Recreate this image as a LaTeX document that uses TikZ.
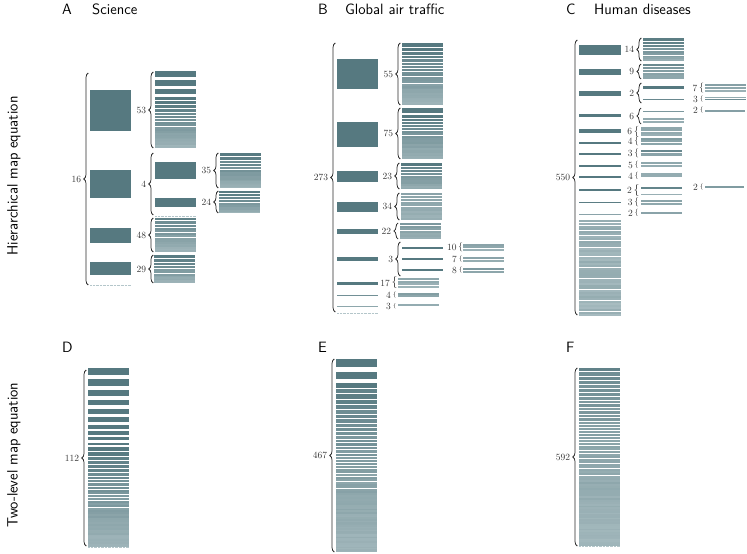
\documentclass[tikz,border=0pt]{standalone}
\usetikzlibrary{decorations.pathreplacing}
\definecolor{dk}{RGB}{86,121,128}
\definecolor{lt}{RGB}{180,198,202}
\definecolor{brcol}{RGB}{40,40,40}
\tikzset{
  bar/.style={fill=dk},
  brc/.style={draw=brcol, line width=0.75pt, decorate},
  numlab/.style={font=\fontsize{9.5}{11}\selectfont, text=black!80, inner sep=0pt, anchor=east},
  smallbrace/.style={inner sep=0pt, text=brcol},
  ttl/.style={font=\sffamily\fontsize{15}{18}\selectfont, inner sep=0pt, anchor=base west},
  rowlab/.style={font=\sffamily\fontsize{15}{18}\selectfont, inner sep=0pt, rotate=90},
  dotln/.style={draw=lt, line width=0.6pt, dash pattern=on 0.7pt off 0.7pt},
}
\pgfkeys{/strp/.is family, /strp/.cd,
  n/.store in=\sN, r/.store in=\sR, f/.store in=\sF,
  pa/.store in=\sPa, pb/.store in=\sPb, g/.store in=\sGm, jit/.store in=\sJ}
% [options]{x1}{x2}{ytop}{ybot}
\newcommand\mystripes[5][]{%
  \begingroup
  \pgfkeys{/strp/.cd, n=10, r=0.9, f=0, pa=100, pb=25, g=1, jit=6, #1}%
  \pgfmathsetmacro\sH{#5-#4}%
  \pgfmathsetmacro\sTot{(1-\sR^\sN)/(1-\sR)+\sN*\sF}%
  \foreach \i in {1,...,\sN}{%
    \pgfmathsetmacro\fa{((1-\sR^(\i-1))/(1-\sR)+(\i-1)*\sF)/\sTot}%
    \pgfmathsetmacro\fb{((1-\sR^\i)/(1-\sR)+\i*\sF)/\sTot}%
    \pgfmathsetmacro\ya{round(#4+\sH*\fa)}%
    \pgfmathsetmacro\yb{round(#4+\sH*\fb)}%
    \pgfmathtruncatemacro\hz{round(\yb-\ya)}%
    \ifnum\hz>0
      \pgfmathsetmacro\gp{(\hz>2)*0.55+(\hz==2)*0.4}%
      \pgfmathtruncatemacro\pp{max(0,min(100,\sPa+(\sPb-\sPa)*(max(\fa,0.001))^\sGm+\sJ*rand))}%
      \fill[dk!\pp!lt] (#2,\ya) rectangle (#3,\yb-\gp);
    \fi
  }%
  \endgroup
}
% {name}{x of brace line}{ytop}{ybot}{label}
\newcommand\brlab[5]{%
  \pgfmathsetmacro\bmid{(#3+#4)/2}%
  \pgfmathtruncatemacro\bsm{(#4-#3)<12}%
  \ifnum\bsm=1
    \pgfmathsetmacro\bfs{1.15*(#4-#3)+0.5}%
    \node[smallbrace, font=\fontsize{\bfs}{\bfs}\selectfont] (#1br) at (#2-0.3,\bmid) {$\{$};
    \node[numlab] (#1) at (#1br.west) [xshift=-1.5pt] {#5};
  \else
    \pgfmathsetmacro\bamp{min(4.5,0.2*(#4-#3)+1.2)}%
    \draw[brc, decoration={brace, amplitude=\bamp pt}] (#2+\bamp/2,#4) -- (#2+\bamp/2,#3);
    \node[numlab] (#1) at (#2-\bamp/2-2.5,\bmid) {#5};
  \fi
}
\begin{document}
\begin{tikzpicture}[x={(1bp,0)}, y={(0,-1bp)}]
\pgfmathsetseed{7}
\useasboundingbox (0,0) rectangle (747,554);

% titles
\node[ttl] (tA) at (62,15) {A};
\node[ttl] (tAs) at (92,15) {Science};
\node[ttl] (tB) at (318,15) {B};
\node[ttl] (tBs) at (345,15) {Global air traffic};
\node[ttl] (tC) at (566,15) {C};
\node[ttl] (tCs) at (594,15) {Human diseases};
\node[ttl] (tD) at (62,352) {D};
\node[ttl] (tE) at (318,352) {E};
\node[ttl] (tF) at (566,352) {F};
\node[rowlab] (r1) at (14,176) {Hierarchical map equation};
\node[rowlab] (r2) at (14,455) {Two-level map equation};

% ---------------- Panel A
\foreach \a/\b in {90/131,170/198,228/243,262/275} \fill[bar] (90,\a) rectangle (131,\b);
\draw[dotln] (90,285) -- (131,285);
\brlab{lA}{86}{73}{285}{16}
\foreach \a/\b in {71/77,80/86,89/94,97/100} \fill[bar] (155,\a) rectangle (196,\b);
\mystripes[n=22,r=0.9,f=0.2,pa=100,pb=20]{155}{196}{101}{148}
\brlab{lA1}{151}{72}{148}{53}
\foreach \a/\b in {162/179,198/207} \fill[bar] (155,\a) rectangle (196,\b);
\draw[dotln] (155,216) -- (196,216);
\brlab{lA2}{151}{153}{215}{4}
\mystripes[n=16,r=0.85,f=0.3]{220}{261}{153}{188}
\brlab{lA21}{216}{153}{188}{35}
\mystripes[n=10,r=0.85,f=0.3]{219}{260}{191}{213}
\brlab{lA22}{216}{191}{213}{24}
\mystripes[n=15,r=0.9,f=0.4,pa=85,pb=20]{155}{196}{218}{252}
\brlab{lA3}{151}{218}{252}{48}
\mystripes[n=12,r=0.8,f=0.3]{154}{195}{255}{283}
\brlab{lA4}{151}{255}{283}{29}

% ---------------- Panel B
\foreach \a/\b/\p in {59/89/100,122/147/100,171/182/100,202/212/100,229/234/100,257/261/100,282/285/100,295/296.3/70,306/307/40}
  \fill[dk!\p!lt] (337,\a) rectangle (378,\b);
\draw[dotln] (337,313) -- (378,313);
\brlab{lB}{333}{43}{312}{273}
\fill[bar] (402,43) rectangle (443,47);
\mystripes[n=25,r=0.92,f=0.3]{402}{443}{48}{105}
\brlab{lB1}{398}{43}{105}{55}
\fill[bar] (402,108) rectangle (443,113);
\mystripes[n=20,r=0.92,f=0.3]{402}{443}{115}{159}
\brlab{lB2}{398}{108}{159}{75}
\mystripes[n=11,r=0.85,f=0.3,pb=30]{401}{442}{163}{189}
\brlab{lB3}{397}{163}{189}{23}
\mystripes[n=12,r=0.9,f=0.5,pa=50,pb=25]{401}{442}{193}{220}
\brlab{lB4}{397}{193}{220}{34}
\mystripes[n=7,r=0.9,f=0.5,pa=55,pb=25]{400}{441}{223}{239}
\brlab{lB5}{396}{223}{239}{22}
\foreach \a in {247.3,258.3,269.3} \fill[bar] (402,\a) rectangle (443,\a+1.8);
\brlab{lB6}{398}{242}{276}{3}
\mystripes[n=3,r=0.9,f=0.5,pa=45,pb=25]{463}{504}{244}{251}
\brlab{lB61}{461}{244}{251}{10}
\mystripes[n=2,r=0.9,f=0.5,pa=40,pb=30]{463}{504}{257}{262}
\brlab{lB62}{461}{257}{262}{7}
\mystripes[n=2,r=0.9,f=0.5,pa=55,pb=30]{463}{504}{268}{273}
\brlab{lB63}{461}{268}{273}{8}
\mystripes[n=4,r=0.9,f=0.5,pa=40,pb=25]{398}{439}{278}{288}
\brlab{lB7}{395}{278}{288}{17}
\mystripes[n=2,r=0.9,f=0.5,pa=50,pb=30]{398}{439}{293}{297}
\brlab{lB8}{395}{293}{298}{4}
\mystripes[n=1,r=0.9,f=0.5,pa=35,pb=30]{398}{439}{304}{307}
\brlab{lB9}{395}{304}{308}{3}

% ---------------- Panel C
\foreach \a/\b/\p in {45/55/100,69/75/100,91/96/100,114/117/100,129/133/100,142/144/100,153/155/100,165/167/100,176/178/100,189/191/100,202/203.3/95,214/215.3/45}
  \fill[dk!\p!lt] (579,\a) rectangle (621,\b);
\mystripes[n=42,r=0.8,f=3,pa=30,pb=22,jit=10]{579}{621}{220}{316}
\brlab{lC}{575}{40}{315}{550}
\mystripes[n=9,r=0.85,f=0.3,pa=100,pb=30]{643}{684}{38}{61}
\brlab{lC1}{639}{38}{61}{14}
\mystripes[n=6,r=0.85,f=0.4,pa=75,pb=30]{643}{684}{64}{79}
\brlab{lC2}{639}{64}{79}{9}
\fill[bar] (643,86) rectangle (684,89);
\fill[dk!80!lt] (643,99) rectangle (684,100.2);
\brlab{lC3}{639}{83}{103}{2}
\mystripes[n=3,r=0.9,f=0.5,pa=45,pb=30]{705}{746}{84}{92}
\brlab{lC31}{702}{84}{92}{7}
\fill[dk!35!lt] (705,97) rectangle (746,98);
\fill[dk!75!lt] (705,98.8) rectangle (746,100.3);
\brlab{lC32}{702}{97}{102}{3}
\fill[dk!50!lt] (705,110) rectangle (745,112);
\brlab{lC33}{702}{108}{113}{2}
\fill[dk!60!lt] (643,110.8) rectangle (684,112.2);
\mystripes[n=2,r=0.9,f=0.5,pa=35,pb=30]{643}{684}{118}{123}
\brlab{lC4}{639}{108}{124}{6}
\mystripes[n=4,r=0.9,f=0.5,pa=45,pb=30]{641}{682}{127}{136}
\brlab{lC5}{637}{127}{136}{6}
\mystripes[n=3,r=0.9,f=0.5,pa=50,pb=35]{641}{682}{138}{145}
\brlab{lC6}{637}{138}{145}{4}
\fill[dk!80!lt] (641,150.5) rectangle (682,152);
\fill[dk!45!lt] (641,153) rectangle (682,156);
\brlab{lC7}{637}{150}{157}{3}
\mystripes[n=2,r=0.9,f=0.5,pa=40,pb=30,jit=0]{641}{682}{162}{168}
\brlab{lC8}{637}{162}{168}{5}
\mystripes[n=1,r=0.9,f=0.5,pa=35,pb=30,jit=0]{641}{682}{173}{178}
\brlab{lC9}{637}{173}{179}{4}
\fill[dk!85!lt] (641,187.3) rectangle (682,188.8);
\fill[dk!30!lt] (641,194) rectangle (682,195);
\brlab{lC10}{637}{185}{196}{2}
\fill[dk!55!lt] (705,186.3) rectangle (744,188);
\brlab{lC101}{702}{185}{190}{2}
\mystripes[n=2,r=0.9,f=0.5,pa=45,pb=35,jit=0]{641}{682}{200}{205}
\brlab{lC11}{637}{199}{206}{3}
\fill[dk!45!lt] (641,212) rectangle (682,214);
\brlab{lC12}{637}{210}{216}{2}

% ---------------- Panel D
\foreach \a/\b in {368/375,379/386,390/396,400/405,409/414,417/422,425/429,431/435,437/440,443/445}
  \fill[bar] (88,\a) rectangle (129,\b);
\mystripes[n=40,r=0.93,f=0.35,pa=100,pb=20]{88}{129}{447}{547}
\draw[dotln] (88,547.5) -- (129,547.5);
\brlab{lD}{84}{370}{546}{112}

% ---------------- Panel E
\foreach \a/\b in {359/367,372/379} \fill[bar] (336,\a) rectangle (377,\b);
\mystripes[n=68,r=0.95,f=0.25,pa=100,pb=22,g=0.7]{336}{377}{383}{552}
\brlab{lE}{332}{359}{552}{467}

% ---------------- Panel F
\mystripes[n=75,r=0.97,f=0.3,pa=85,pb=20,g=0.6]{579}{620}{368}{546}
\draw[dotln] (579,546.5) -- (620,546.5);
\brlab{lF}{575}{368}{546}{592}
\end{tikzpicture}
\end{document}
